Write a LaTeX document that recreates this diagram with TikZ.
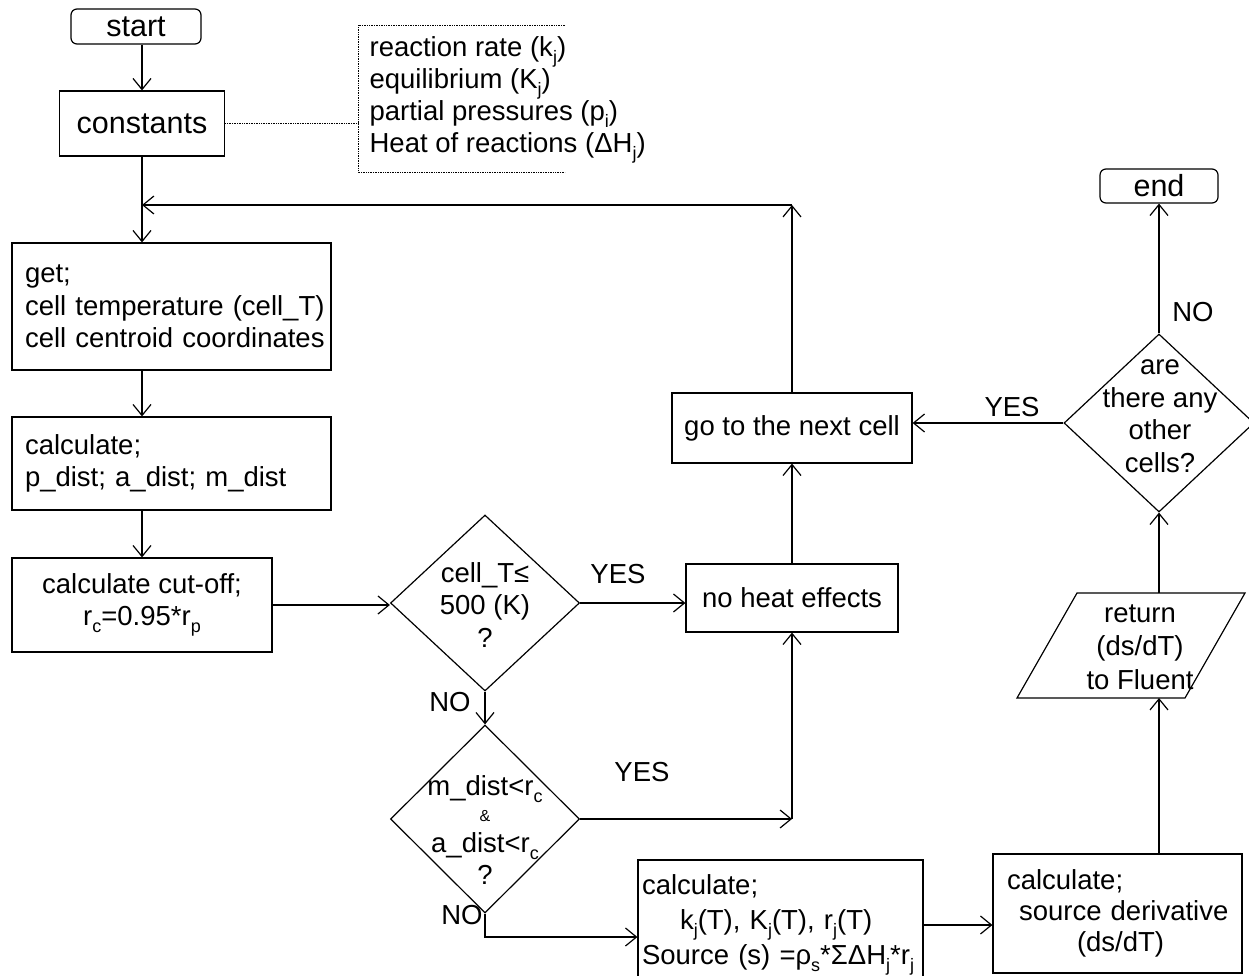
\documentclass[tikz,border=0pt]{standalone}
\usepackage{fontspec}
\setmainfont{Liberation Sans}
\usetikzlibrary{arrows.meta,shapes.geometric}
\newcommand{\sbs}[1]{\raisebox{-0.25em}{\fontsize{18}{18}\selectfont #1}}
\newcommand{\myfs}{\fontsize{27.5}{32.5}\selectfont}
\newcommand{\mybigfs}{\fontsize{30.5}{34}\selectfont}
\begin{document}
\begin{tikzpicture}[x=1pt,y=-1pt,line width=1.2pt,
  >={Straight Barb[length=11pt,width=18pt]},
  box/.style={draw,rectangle,inner sep=0pt,font=\myfs},
  rbox/.style={draw,rectangle,rounded corners=6pt,inner sep=0pt,font=\mybigfs},
  dia/.style={draw,diamond,inner sep=0pt},
  txt/.style={font=\myfs,inner sep=0pt,align=center},
  lbl/.style={font=\myfs,inner sep=0pt},
  note/.style={densely dotted,line width=0.7pt}]
\useasboundingbox (0,0) rectangle (1249,976);

% nodes
\node[rbox,minimum width=130,minimum height=35] (start) at (136,26.5) {start};
\node[box,minimum width=165,minimum height=65,font=\mybigfs] (cons) at (142,123.5) {constants};
\node[anchor=west,align=left,font=\fontsize{27.5}{32}\selectfont,inner sep=0pt] (notes) at (369,100)
  {reaction rate (k\sbs{j})\\equilibrium (K\sbs{j})\\partial pressures (p\sbs{i})\\Heat of reactions (ΔH\sbs{j})};
\coordinate (bk) at (358,123.5);

\node[box,minimum width=319,minimum height=127,inner xsep=13pt,text width=293,align=left] (get) at (171.5,306.5)
  {get;\\\mbox{cell temperature (cell\_T)}\\\mbox{cell centroid coordinates}};
\node[box,minimum width=319,minimum height=93,inner xsep=13pt,text width=293,align=left] (calc) at (171.5,463.5)
  {calculate;\\p\_dist; a\_dist; m\_dist};
\node[box,minimum width=260,minimum height=94,align=center] (cut) at (142,605)
  {calculate cut-off;\\r\sbs{c}=0.95*r\sbs{p}};

\node[dia,minimum width=189,minimum height=176] (d1) at (485,603) {};
\node[txt] (d1t) at (485,605) {cell\_T≤\\500 (K)\\?};

\node[dia,minimum width=189,minimum height=188] (d2) at (485,819) {};
\node[txt] (d2t) at (485,830) {m\_dist<r\sbs{c}\\[-6pt]{\fontsize{16}{18}\selectfont\&}\\[-2pt]a\_dist<r\sbs{c}\\?};

\node[box,minimum width=212,minimum height=68] (noheat) at (792,598) {no heat effects};
\node[box,minimum width=240,minimum height=70] (goto) at (792,428) {go to the next cell};

\node[box,minimum width=285,minimum height=130,inner xsep=4pt,text width=277,align=left,
  font=\fontsize{27.5}{35}\selectfont] (src) at (780.5,925)
  {calculate;\\\hspace*{38pt}k\sbs{j}(T), K\sbs{j}(T), r\sbs{j}(T)\\\mbox{Source (s) =ρ\sbs{s}*ΣΔH\sbs{j}*r\sbs{j}}};
\node[box,minimum width=249,minimum height=119,inner xsep=14pt,text width=221,align=left,
  font=\fontsize{27.5}{31}\selectfont] (calc2) at (1117.5,913.5)
  {calculate;\\\mbox{\hspace*{12pt}source derivative}\\\hspace*{70pt}(ds/dT)};

% parallelogram (return)
\draw (1017,698) -- (1077,593) -- (1245,593) -- (1185,698) -- cycle;
\coordinate (rt) at (1159,593);
\coordinate (rb) at (1159,698);
\node[txt,font=\fontsize{27.5}{33.5}\selectfont] (rettxt) at (1140,647) {return\\(ds/dT)\\to Fluent};

\node[dia,minimum width=190,minimum height=178] (d3) at (1159,423) {};
\node[txt] (d3t) at (1160,416) {are\\there any\\other\\cells?};
\node[rbox,minimum width=118,minimum height=34] (end) at (1159,186) {end};

% labels
\node[lbl] (y1) at (618,574) {YES};
\node[lbl] (n1) at (450,702) {NO};
\node[lbl] (y2) at (642,772) {YES};
\node[lbl] (n2) at (462,915) {NO};
\node[lbl] (y3) at (1012,407) {YES};
\node[lbl] (n3) at (1193,312) {NO};

% annotation bracket
\draw[note] (cons.east) -- (bk);
\draw[note] (565,25) -- (358,25) -- (358,172) -- (565,172);

% connectors
\coordinate (j1) at (792,205);
\coordinate (j2) at (792,819);
\coordinate (j3) at (485,937);
\draw[->] (start.south -| cons.north) -- (cons.north);
\draw[->] (cons.south) -- (cons.south |- get.north);
\draw[->] (j1) -- (cons.south |- j1);
\draw[->] (get.south -| cut.north) -- (calc.north -| cut.north);
\draw[->] (calc.south -| cut.north) -- (cut.north);
\draw[->] (cut.east) -- (cut.east -| d1.west);
\draw[->] (d1.east) -- (d1.east -| noheat.west);
\draw[->] (d1.south) -- (d2.north);
\draw[->] (d2.east) -- (j2);
\draw[->] (j2) -- (noheat.south);
\draw[->] (d2.south) -- (j3) -- (j3 -| src.west);
\draw[->] (src.east |- 0,925) -- (calc2.west |- 0,925);
\draw[->] (calc2.north -| rb) -- (rb);
\draw[->] (rt) -- (d3.south);
\draw[->] (d3.west) -- (d3.west -| goto.east);
\draw[->] (d3.north) -- (end.south);
\draw[->] (noheat.north) -- (goto.south);
\draw[->] (goto.north) -- (j1);
\end{tikzpicture}
\end{document}
